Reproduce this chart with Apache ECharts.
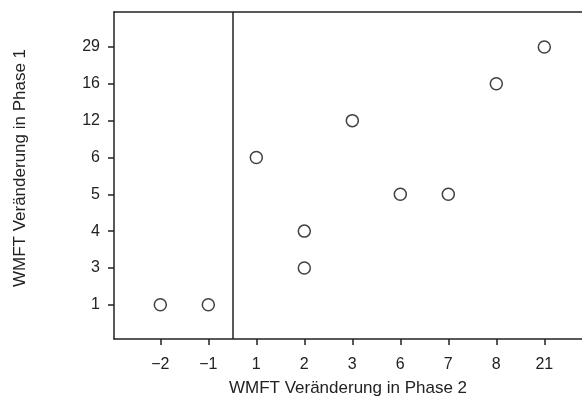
<!DOCTYPE html>
<html>
<head>
<meta charset="utf-8">
<script src="https://cdn.jsdelivr.net/npm/echarts@6/dist/echarts.min.js"></script>
<style>html,body{margin:0;padding:0;background:#fff}#c{width:582px;height:405px}</style>
</head>
<body>
<div id="c"></div>
<script>
const xCategories = ['\u22122', '\u22121', '1', '2', '3', '6', '7', '8', '21'];
const yCategories = ['1', '3', '4', '5', '6', '12', '16', '29'];
const pointsX = ['\u22122', '\u22121', '1', '2', '2', '3', '6', '7', '8', '21'];
const pointsY = ['1', '1', '6', '4', '3', '12', '5', '5', '16', '29'];
const xTitle = 'WMFT Veränderung in Phase 2';
const yTitle = 'WMFT Veränderung in Phase 1';

const data = pointsX.map((px, i) => [xCategories.indexOf(px), yCategories.indexOf(pointsY[i])]);
const xIdx = xCategories.map((_, i) => i);
const yIdx = yCategories.map((_, i) => i);
const FONT = '"Liberation Sans", sans-serif';
const lineStyle = { color: '#222', width: 1.5 };

const chart = echarts.init(document.getElementById('c'), null, { renderer: 'canvas' });
chart.setOption({
  animation: false,
  grid: { left: 114, top: 12, right: 0, bottom: 66 },
  xAxis: [{
    type: 'value', min: -0.965, max: 8.785,
    splitLine: { show: false },
    axisLine: { show: true, onZero: false, lineStyle },
    axisTick: { show: true, length: 6, lineStyle, customValues: xIdx },
    axisLabel: { customValues: xIdx, formatter: v => xCategories[Math.round(v)], color: '#222', fontFamily: FONT, fontSize: 16, margin: 18 },
    name: xTitle, nameLocation: 'middle', nameGap: 41,
    nameTextStyle: { color: '#222', fontFamily: FONT, fontSize: 17 }
  }, {
    type: 'value', position: 'top', min: -0.965, max: 8.785,
    splitLine: { show: false }, axisTick: { show: false }, axisLabel: { show: false },
    axisLine: { show: true, onZero: false, lineStyle }
  }],
  yAxis: {
    type: 'value', min: -0.93, max: 7.95,
    splitLine: { show: false },
    axisLine: { show: true, onZero: false, lineStyle },
    axisTick: { show: true, length: 6, lineStyle, customValues: yIdx },
    axisLabel: { customValues: yIdx, formatter: v => yCategories[Math.round(v)], color: '#222', fontFamily: FONT, fontSize: 16, margin: 14 }
  },
  graphic: [{
    type: 'text', x: 20, y: 168, rotation: Math.PI / 2,
    style: { text: yTitle, fill: '#222', font: '17px ' + FONT, align: 'center', verticalAlign: 'middle' }
  }],
  series: [{
    type: 'scatter', data, symbol: 'circle', symbolSize: 12,
    itemStyle: { color: '#fff', borderColor: '#111', borderWidth: 1.5 },
    markLine: {
      silent: true, symbol: 'none', label: { show: false },
      lineStyle: { color: '#222', width: 1.5, type: 'solid' },
      data: [{ xAxis: 1.5 }]
    }
  }]
});
</script>
</body>
</html>
